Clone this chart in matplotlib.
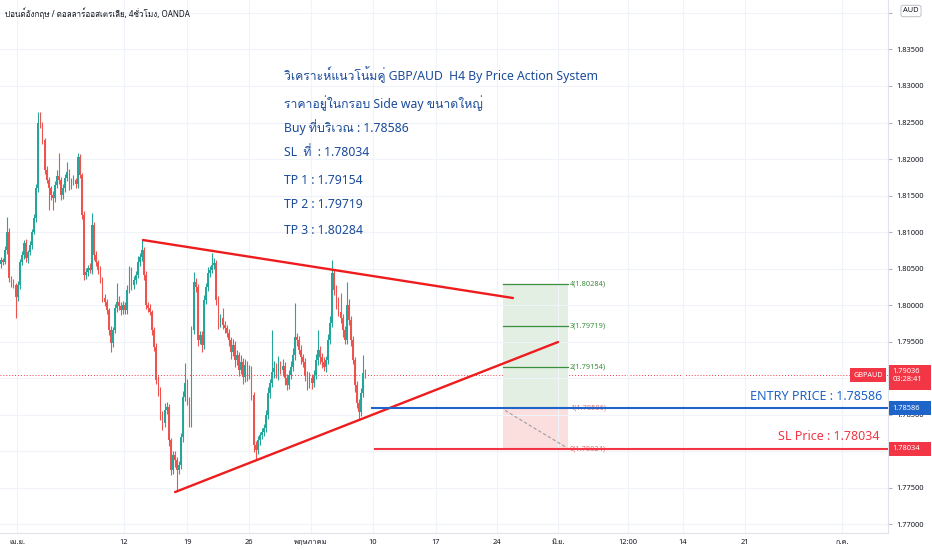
import numpy as np
import matplotlib
matplotlib.use("Agg")
import matplotlib.pyplot as plt
import matplotlib.transforms as mtransforms
from matplotlib import font_manager
from matplotlib.ft2font import FT2Font
from matplotlib.patches import Rectangle


def find_thai_family():
    # first installed family that has Thai glyphs, if any
    for f in font_manager.fontManager.ttflist:
        try:
            if 0x0E01 in FT2Font(f.fname).get_charmap():
                return f.name
        except Exception:
            continue
    return None


thai = find_thai_family()
FAMILIES = ["Noto Sans"] + ([thai] if thai else []) + ["DejaVu Sans"]
plt.rcParams["font.family"] = FAMILIES

# ---- data (GBPAUD, 4H) ----
first_open = 1.80560
closes = [
    1.80616, 1.80589, 1.80753, 1.81000, 1.80370, 1.80315, 1.80274, 1.80110, 1.80274, 1.80589,
    1.80685, 1.80849, 1.80644, 1.80726, 1.80822, 1.81000, 1.81192, 1.81603, 1.82493, 1.82466,
    1.82260, 1.81849, 1.81712, 1.81603, 1.81507, 1.81466, 1.81644, 1.81767, 1.81712, 1.81507,
    1.81603, 1.81740, 1.81822, 1.81644, 1.81685, 1.81712, 1.81658, 1.82027, 1.81781, 1.81233,
    1.80411, 1.80452, 1.80507, 1.80479, 1.81096, 1.80685, 1.80589, 1.80479, 1.80342, 1.80096,
    1.80041, 1.79932, 1.79658, 1.79479, 1.79658, 1.79959, 1.80041, 1.79986, 1.79932, 1.80000,
    1.79932, 1.80205, 1.80479, 1.80274, 1.80342, 1.80411, 1.80589, 1.80658, 1.80753, 1.80411,
    1.80000, 1.79959, 1.79904, 1.79658, 1.79425, 1.78973, 1.78836, 1.78493, 1.78384, 1.78562,
    1.78603, 1.78151, 1.77740, 1.77945, 1.77877, 1.77740, 1.77808, 1.78192, 1.78740, 1.78932,
    1.78699, 1.78384, 1.79658, 1.80315, 1.80247, 1.79521, 1.79589, 1.79452, 1.80068, 1.80247,
    1.80438, 1.80479, 1.80548, 1.80575, 1.80068, 1.79753, 1.79822, 1.79726, 1.79685, 1.79616,
    1.79521, 1.79356, 1.79452, 1.79247, 1.79315, 1.79110, 1.79219, 1.79014, 1.79178, 1.79041,
    1.79110, 1.78767, 1.78082, 1.78014, 1.78151, 1.78219, 1.78260, 1.78315, 1.78493, 1.78795,
    1.78932, 1.79082, 1.79137, 1.79068, 1.79178, 1.79110, 1.79164, 1.79000, 1.78904, 1.79041,
    1.79151, 1.79315, 1.79562, 1.79521, 1.79384, 1.79288, 1.79219, 1.79041, 1.78932, 1.79000,
    1.78932, 1.79041, 1.79247, 1.79384, 1.79288, 1.79219, 1.79151, 1.79247, 1.79521, 1.79753,
    1.80438, 1.80205, 1.80027, 1.79904, 1.79822, 1.79658, 1.79521, 1.80000, 1.79795, 1.79521,
    1.79247, 1.78904, 1.78658, 1.78534, 1.78795, 1.79068, 1.79036,
]
# wick lengths beyond the body, in pips
upper_wick = [
    4, 3, 6, 20, 5, 3, 4, 3, 5, 4,
    6, 4, 5, 3, 6, 4, 5, 6, 15, 15,
    4, 3, 5, 4, 3, 5, 6, 8, 31, 4,
    6, 5, 14, 4, 5, 7, 3, 5, 4, 3,
    5, 6, 4, 7, 16, 4, 5, 3, 6, 4,
    5, 4, 3, 5, 4, 6, 26, 8, 5, 6,
    4, 7, 5, 4, 6, 5, 8, 6, 14, 4,
    5, 4, 6, 3, 4, 5, 6, 4, 5, 9,
    7, 4, 3, 6, 5, 4, 5, 6, 8, 27,
    5, 4, 6, 14, 5, 4, 6, 5, 7, 6,
    8, 6, 16, 7, 4, 5, 6, 14, 5, 4,
    6, 4, 8, 5, 7, 4, 9, 5, 8, 6,
    7, 5, 4, 6, 5, 4, 6, 5, 7, 8,
    6, 57, 9, 7, 12, 6, 10, 5, 6, 7,
    8, 9, 47, 6, 5, 7, 4, 5, 6, 8,
    6, 7, 8, 27, 6, 5, 7, 6, 8, 9,
    18, 6, 7, 8, 26, 6, 5, 31, 8, 6,
    5, 4, 6, 5, 7, 25, 6,
]
lower_wick = [
    5, 4, 3, 6, 5, 7, 4, 29, 6, 5,
    4, 6, 5, 7, 4, 5, 3, 6, 5, 4,
    5, 6, 4, 30, 7, 16, 5, 4, 6, 7,
    5, 6, 4, 7, 5, 4, 6, 5, 4, 6,
    7, 5, 6, 4, 5, 7, 5, 6, 4, 5,
    6, 5, 7, 12, 5, 4, 6, 5, 7, 6,
    5, 6, 4, 7, 5, 6, 4, 5, 6, 7,
    5, 6, 4, 7, 5, 6, 8, 7, 9, 6,
    5, 8, 7, 6, 9, 27, 6, 5, 7, 6,
    7, 6, 5, 6, 7, 8, 6, 9, 5, 6,
    5, 6, 4, 5, 7, 8, 6, 5, 7, 6,
    8, 9, 6, 10, 7, 8, 6, 9, 7, 8,
    6, 7, 9, 14, 6, 7, 5, 6, 5, 6,
    7, 6, 8, 7, 9, 6, 8, 10, 7, 6,
    5, 6, 7, 8, 6, 9, 7, 8, 10, 7,
    8, 6, 5, 7, 9, 8, 6, 7, 5, 6,
    6, 7, 8, 6, 7, 9, 6, 5, 7, 8,
    6, 9, 7, 11, 6, 5, 4,
]

price_ticks = [1.770, 1.775, 1.780, 1.785, 1.790, 1.795, 1.800, 1.805,
               1.810, 1.815, 1.820, 1.825, 1.830, 1.835, 1.840]
# labels that sit under the price tags are left blank, as on the chart
hidden_ticks = [1.780, 1.790, 1.840]
date_labels = ["เม.ย.", "12", "19", "26", "พฤษภาคม", "10", "17", "24",
               "มิ.ย.", "12:00", "14", "21", "ก.ค."]
date_pos = [7.7, 59.4, 89.9, 119.8, 149.8, 179.7, 210.1, 239.6,
            269.1, 302.9, 329.5, 359.4, 406.3]

entry = 1.78586
stop = 1.78034
targets = [1.79154, 1.79719, 1.80284]
last_price = 1.79036

# trendlines: (bar, price) end points
upper_line = [(68.6, 1.80890), (247.3, 1.80096)]
lower_line = [(84.1, 1.77438), (269.1, 1.79493)]

notes = [
    "วิเคราะห์แนวโน้มคู่ GBP/AUD  H4 By Price Action System",
    "ราคาอยู่ในกรอบ Side way ขนาดใหญ่",
    "Buy ที่บริเวณ : 1.78586",
    "SL  ที่  : 1.78034",
    "TP 1 : 1.79154",
    "TP 2 : 1.79719",
    "TP 3 : 1.80284",
]

UP = "#26a69a"
DOWN = "#ef5350"
RED = "#f23645"
BLUE = "#1f64c8"
GRID = "#f0f3fa"
TXT = "#131722"

closes = np.array(closes)
opens = np.concatenate([[first_open], closes[:-1]])
highs = np.maximum(opens, closes) + np.array(upper_wick) * 1e-4
lows = np.minimum(opens, closes) - np.array(lower_wick) * 1e-4
idx = np.arange(len(closes))
cols = np.where(closes >= opens, UP, DOWN)

fig = plt.figure(figsize=(9.32, 5.5), dpi=100)
ax = fig.add_axes([0, 17 / 550, 888 / 932, 533 / 550])
ax.set_xlim(-0.5, 428.5)
ax.set_ylim(1.76877, 1.84178)

for s in ["top", "left"]:
    ax.spines[s].set_visible(False)
for s in ["right", "bottom"]:
    ax.spines[s].set_color("#e0e3eb")
    ax.spines[s].set_linewidth(0.8)

ax.set_yticks(price_ticks)
ax.set_yticklabels(["" if t in hidden_ticks else f"{t:.5f}" for t in price_ticks])
ax.yaxis.tick_right()
ax.tick_params(axis="y", length=3, color="#b2b5be", labelsize=5.4,
               labelcolor=TXT, pad=3)
ax.set_xticks(date_pos)
ax.set_xticklabels(date_labels)
ax.tick_params(axis="x", length=0, labelsize=5.4, labelcolor=TXT, pad=4)
ax.grid(True, color=GRID, linewidth=0.8, zorder=0)

# candles
ax.vlines(idx, lows, highs, colors=cols, linewidth=0.8, zorder=2)
ax.bar(idx, np.abs(closes - opens) + 1e-5, bottom=np.minimum(opens, closes),
       width=0.8, color=cols, linewidth=0, zorder=3)

# current price line
ax.axhline(last_price, color=RED, linestyle=(0, (1, 2)), linewidth=0.7, zorder=1)

# trendlines
for line in (upper_line, lower_line):
    xs, ys = zip(*line)
    ax.plot(xs, ys, color="#ee1c1c", linewidth=1.7, solid_capstyle="round", zorder=4)

# long position box
x0, x1 = 242.5, 273.9
ax.add_patch(Rectangle((x0, entry), x1 - x0, targets[-1] - entry,
                       facecolor="#e2efe2", edgecolor="none", zorder=1))
ax.add_patch(Rectangle((x0, stop), x1 - x0, entry - stop,
                       facecolor="#fbdede", edgecolor="none", zorder=1))
for n, lvl in enumerate(targets, start=2):
    ax.plot([x0, x1], [lvl, lvl], color="#3b8e3b", linewidth=0.9, zorder=2)
    ax.text(x1 + 1, lvl, f"{n}({lvl:.5f})", color="#3b8e3b", fontsize=5.3,
            va="center", ha="left", zorder=2)
ax.text(x1 + 1, entry, f"1({entry:.5f})", color="#e57373", fontsize=5.3,
        va="center", ha="left", zorder=2)
ax.text(x1 + 1, stop, f"0({stop - 0.0001:.5f})", color="#e57373", fontsize=5.3,
        va="center", ha="left", zorder=2)
ax.plot([x0 + 1, x1 - 0.5], [entry - 0.0003, stop + 0.0001], color="#9e9e9e",
        linestyle=(0, (3, 2)), linewidth=0.8, zorder=2)

# entry / stop lines
ax.plot([179.2, 428.5], [entry, entry], color=BLUE, linewidth=1.5, zorder=5)
ax.plot([180.7, 428.5], [stop, stop], color=RED, linewidth=1.5, zorder=5)
ax.text(425.5, entry + 0.0007, "ENTRY PRICE : 1.78586", color=BLUE,
        fontsize=9, ha="right", va="bottom", zorder=6)
ax.text(424.5, stop + 0.0007, "SL Price : 1.78034", color=RED,
        fontsize=9, ha="right", va="bottom", zorder=6)

# analysis notes
note_y = [75, 103, 127, 153, 180, 205, 231]
for txt, yp in zip(notes, note_y):
    ax.text(284 / 888, (533 - yp) / 533, txt, transform=ax.transAxes,
            color="#1b4b9b", fontsize=8.8, ha="left", va="center")

# price-axis tags
tr = mtransforms.blended_transform_factory(ax.transAxes, ax.transData)


def tag(price, text, color, lo, hi, x_left=1.0011, x_right=1.0484, fs=5.4):
    ax.add_patch(Rectangle((x_left, price - lo), x_right - x_left, lo + hi,
                           transform=tr, facecolor=color, edgecolor="none",
                           clip_on=False, zorder=7))
    ax.text(x_left + 0.004, price, text, transform=tr, color="white",
            fontsize=fs, ha="left", va="center", clip_on=False, zorder=8)


tag(entry, "1.78586", BLUE, 0.00096, 0.00096)
tag(stop, "1.78034", RED, 0.00096, 0.00096)
tag(last_price, "1.79036\n03:28:41", RED, 0.0020, 0.0014)
ax.add_patch(Rectangle((0.957, last_price - 0.00096), 0.041, 0.00192,
                       transform=tr, facecolor=RED, edgecolor="none", zorder=7))
ax.text(0.9775, last_price, "GBPAUD", transform=tr, color="white",
        fontsize=5.2, ha="center", va="center", zorder=8)

fig.text(911 / 932, 1 - 11 / 550, "AUD", fontsize=5.4, color=TXT,
         ha="center", va="center",
         bbox=dict(boxstyle="round,pad=0.3", facecolor="white",
                   edgecolor="#b2b5be", linewidth=0.6))

fig.text(5 / 932, 1 - 13 / 550, "ปอนด์อังกฤษ / ดอลลาร์ออสเตรเลีย, 4ชั่วโมง, OANDA",
         fontsize=5.8, color=TXT, ha="left", va="center")

fig.savefig("out.png", dpi=100, facecolor="white")
